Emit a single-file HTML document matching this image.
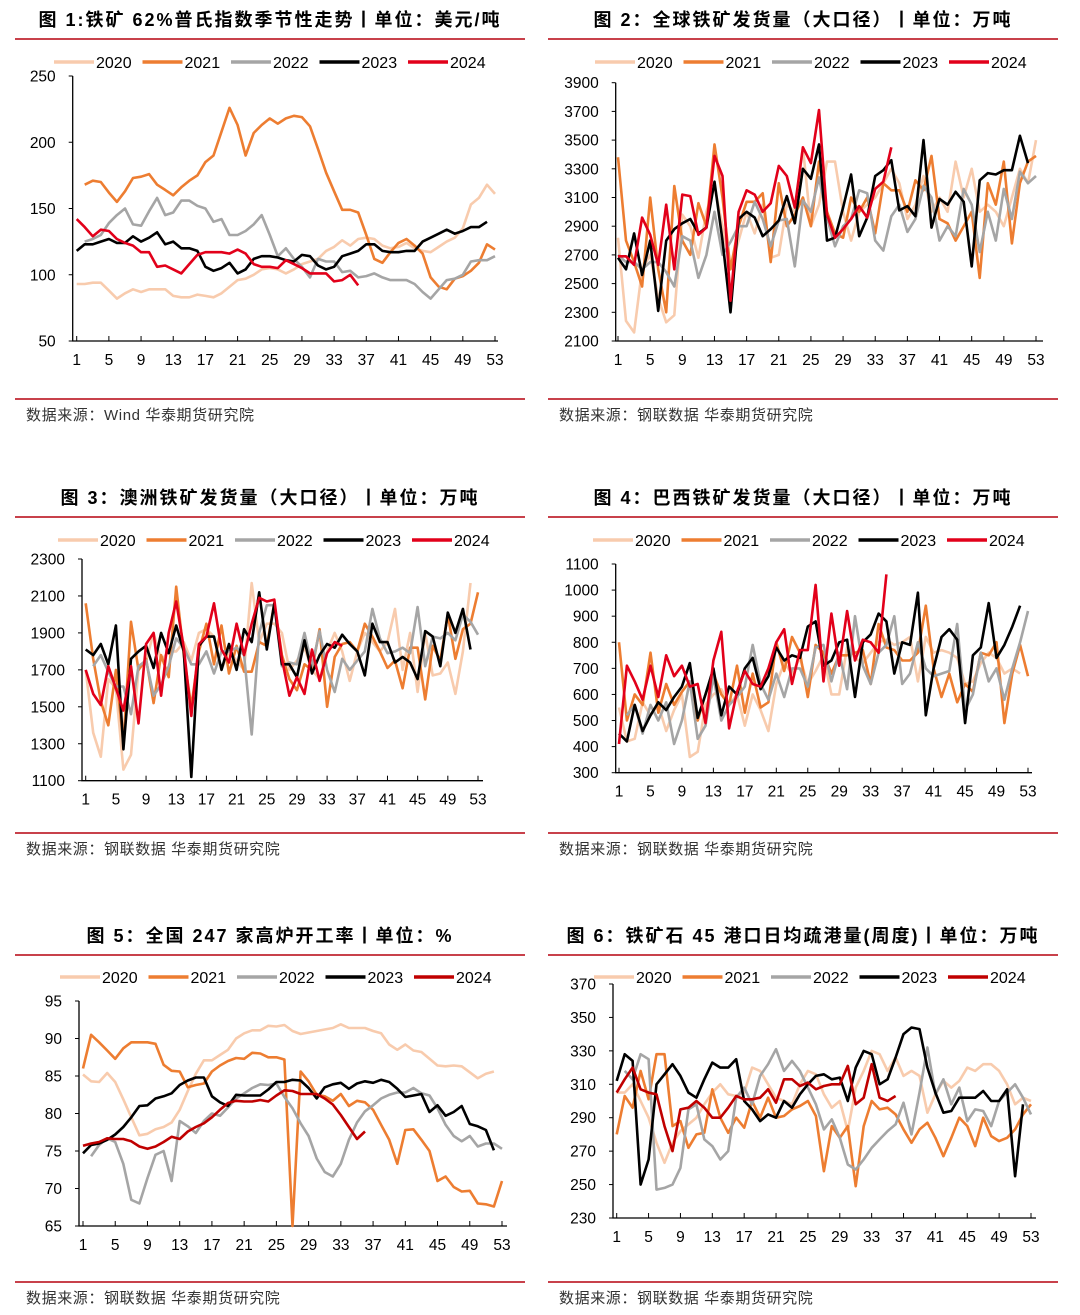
<!DOCTYPE html>
<html><head><meta charset="utf-8">
<style>
html,body{margin:0;padding:0;background:#fff;}
svg{display:block;font-family:"Liberation Sans","Noto Sans CJK SC",sans-serif;}
.tt{font-weight:bold;font-size:18px;fill:#000;letter-spacing:2px;}
.src{font-size:15px;fill:#333;letter-spacing:0.6px;}
.tk{font-size:15.5px;fill:#000;}
.lg{font-size:16px;fill:#000;}
</style></head>
<body>
<svg id="page" width="1080" height="1315" viewBox="0 0 1080 1315" xmlns="http://www.w3.org/2000/svg"></svg>
<script>
const years = ['2020','2021','2022','2023','2024'];
const weekTicks = [1,5,9,13,17,21,25,29,33,37,41,45,49,53];
const N = null;

// Chart 1: Platts 62% price
const c1y2020 = [93,93,94,94,88,82,86,89,87,89,89,89,84,83,83,85,84,83,86,91,96,97,100,104,105,104,101,104,108,110,112,118,121,126,122,127,128,127,122,120,121,124,120,118,117,121,125,128,135,153,158,168,161];
const c1y2021 = [N,168,171,170,162,155,163,173,174,176,168,164,160,166,171,175,185,190,208,226,213,190,207,213,218,214,218,220,219,212,195,177,163,149,149,147,130,112,109,117,124,127,122,116,98,91,89,97,99,103,109,123,119];
const c1y2022 = [N,125,127,130,139,145,150,138,137,148,158,145,147,156,156,152,150,140,142,130,130,133,138,145,130,114,120,112,106,98,112,110,110,102,103,98,99,101,98,96,96,96,93,87,82,89,96,97,100,110,111,111,114];
const c1y2023 = [118,123,123,125,127,124,124,129,125,128,132,123,125,120,120,118,106,103,105,109,101,104,112,114,114,113,111,110,115,114,107,104,106,114,116,118,123,123,118,117,117,118,118,125,128,131,134,131,133,136,136,140,N];
const c1y2024 = [142,136,129,134,133,127,124,122,117,117,106,107,104,101,108,115,117,117,117,116,119,116,108,106,106,105,111,108,105,101,101,101,95,96,100,92];
const c1ticks = [50,100,150,200,250];

// Chart 2: global shipments
const c2y2020 = [2820,2240,2160,2600,2700,2400,2230,2280,2980,2900,2680,3000,3180,2900,2600,2800,3000,2850,3050,2680,2700,3050,3000,3450,2900,3050,3350,3350,3000,2800,3000,3050,3100,3200,3300,3200,2950,3050,3250,3000,3100,3000,3350,3100,3300,3000,3050,3000,2900,3100,3300,3200,3500];
const c2y2021 = [3380,2800,2650,2480,3100,2600,2300,3180,2800,2700,3060,2900,3470,3100,2600,2900,3070,3070,3130,2650,3200,2900,2980,3100,2900,3350,3000,2850,2820,3100,3000,3100,2850,3200,3150,3150,3000,3220,3150,3390,2950,2920,2800,2900,3000,2540,3200,3050,3350,2780,3200,3350,3390];
const c2y2022 = [2700,2650,2650,2600,2650,2650,2580,2480,2830,2800,2540,2700,3000,2700,2790,2900,2900,3070,2950,2760,2940,2950,2620,3080,3000,3240,2960,2760,2900,2950,3150,3130,2800,2730,2970,3050,2860,2950,3180,3100,2800,2900,2830,3160,3050,2720,3000,2800,3160,2950,3280,3200,3250];
const c2y2023 = [2680,2600,2850,2560,2800,2310,2800,2880,2920,2950,2850,2890,3210,2800,2300,2950,3000,2960,2830,2880,2940,3110,2920,3300,3230,3470,2800,2820,3030,3260,2830,2960,3250,3290,3360,3010,3040,2970,3500,2890,3090,3050,3140,3070,2620,3220,3270,3260,3290,3290,3530,3340,N];
const c2y2024 = [2690,2690,2630,2960,2840,2630,3050,2600,3120,3110,2840,2890,3390,3250,2380,3000,3150,3120,3000,3060,3320,3250,3030,3450,3340,3710,2980,2820,2880,2950,3040,2960,3160,3210,3450];
const c2ticks = [2100,2300,2500,2700,2900,3100,3300,3500,3700,3900];

// Chart 3: Australia shipments
const c3y2020 = [1700,1360,1230,1650,1600,1160,1240,1700,1750,1900,1750,1800,1800,1850,1750,1900,1920,1880,1700,1800,1750,1700,2170,1850,1950,1950,1900,1700,1750,1820,1700,1650,1800,1900,1800,1640,1800,1900,1850,1800,1850,2030,1700,1900,1580,1900,1670,1680,1740,1570,1800,2170];
const c3y2021 = [2060,1760,1530,1400,1700,1300,1960,1700,1760,1520,1780,1660,2150,1780,1500,1800,1950,1730,1940,1680,1830,1690,1690,1850,1830,2060,1780,1650,1590,1730,1700,1920,1500,1770,1840,1850,1800,1950,1880,1800,1710,1750,1600,1820,1820,1540,1830,1750,2000,1760,1920,1950,2120];
const c3y2022 = [N,1720,1780,1690,1610,1610,1460,1720,1750,1560,1620,1720,1870,1820,1730,1730,1800,1680,1800,1800,1820,1780,1350,1900,2050,2050,1720,1740,1730,1900,1720,1910,1700,1580,1760,1700,1750,1800,2030,1870,1790,1800,1820,1790,2040,1720,1880,1870,1900,1860,2000,1960,1890];
const c3y2023 = [1810,1780,1840,1730,1940,1270,1760,1800,1830,1710,1900,1790,1940,1800,1120,1830,1880,1880,1700,1840,1700,1920,1850,2120,1810,2060,1730,1730,1660,1860,1680,1780,1840,1820,1890,1840,1800,1670,1950,1850,1850,1740,1770,1740,1650,1910,1880,1720,2010,1900,2030,1810,N];
const c3y2024 = [1700,1570,1510,1720,1600,1480,1720,1410,1840,1900,1560,1900,2070,1820,1450,1840,1880,2060,1810,1740,1950,1780,1950,2090,2070,2080,1760,1560,1660,1570,1810,1640,1790,1850,1830];
const c3ticks = [1100,1300,1500,1700,1900,2100,2300];

// Chart 4: Brazil shipments
const c4y2020 = [550,420,430,570,520,560,460,540,600,360,380,560,600,620,560,600,480,600,540,460,640,720,680,740,640,690,750,600,600,780,740,720,760,800,810,790,800,820,650,820,760,770,760,740,640,650,720,760,740,680,700,680];
const c4y2021 = [800,500,600,560,760,530,640,560,610,650,500,600,680,600,560,710,530,680,550,570,800,690,820,760,590,790,760,680,750,750,760,770,640,870,780,770,730,730,760,940,700,590,680,570,640,610,760,750,800,490,680,790,670];
const c4y2022 = [N,520,560,450,560,500,570,410,500,650,430,480,670,500,560,590,630,790,640,580,680,590,700,700,630,780,790,650,760,620,900,710,640,760,790,900,640,680,800,700,670,680,690,870,540,600,760,650,700,580,700,800,920];
const c4y2023 = [450,420,560,460,520,570,540,590,630,720,510,600,700,520,630,600,700,740,620,670,780,730,750,740,860,880,710,730,800,810,590,800,830,910,880,680,800,790,990,520,700,820,850,810,490,750,780,950,740,790,860,940,N];
const c4y2024 = [410,710,650,580,710,590,750,670,710,630,640,490,730,840,470,610,690,640,630,700,800,850,640,770,770,1020,650,910,710,920,730,810,800,760,1060];
const c4ticks = [300,400,500,600,700,800,900,1000,1100];

// Chart 5: blast furnace utilisation
const c5y2020 = [85.2,84.3,84.2,85.4,84.2,81.9,79.5,77.1,77.3,77.9,78.2,78.8,80.5,83,85.3,87.1,87.1,87.8,88.5,90,90.7,91.1,91.1,91.7,91.6,91.8,91,90.6,90.8,91,91.2,91.4,91.9,91.4,91.4,91.4,91,90.7,89.2,88.5,89.2,88.4,88.2,87.3,86.4,86.3,86.4,86.3,85.5,84.7,85.3,85.6,N];
const c5y2021 = [86,90.5,89.5,88.4,87.3,88.7,89.5,89.5,89.5,89.3,86.5,85.7,85.6,83.5,83.8,84,85.6,86.4,87,87.4,87.3,88.1,88,87.5,87.5,87.2,65,85.6,84.3,82.5,82.3,81.7,82.6,81,81.7,81.5,80.5,78.5,76.5,73.3,77.8,77.9,76.5,75,71,71.6,70.2,69.6,69.7,68,67.9,67.6,71];
const c5y2022 = [N,74.3,75.8,76.7,76.2,73.3,68.5,68,71.4,74.5,75,71,79,78.3,77.4,79,80,79.7,80.8,82,82.7,83.4,83.9,83.8,84,82.2,80.7,78.7,77,74,72.2,71.6,73.3,76.5,78.8,80.3,81.1,82,82.5,82.8,82.8,83.4,82.7,82.4,80.7,78.5,77,76.3,77,75.6,76,76,75.3];
const c5y2023 = [74.7,75.8,76,76.5,77.2,78.2,79.5,81,81.1,82,82.3,82.7,83.8,84.4,84.8,84.8,82.3,81.5,81,82.5,82.4,82.4,82.4,83.2,84.2,84.2,84.5,84.4,83.4,82,83.5,83.9,84.1,83.3,84,84.3,84.1,84.5,84.2,83.3,82.2,82.4,82.6,80.2,81.1,79.7,80.2,81,78.6,78.3,77.8,75.1,N];
const c5y2024 = [75.7,76,76.2,76.7,76.6,76.6,76.3,75.6,75.3,75.6,76.2,76.9,76.6,77.6,78.2,78.7,79.5,80.5,81.4,81.7,81.6,81.6,81.8,81.6,82.4,83.1,83,82.6,82.6,82.6,82,81.2,79.8,78.2,76.6,77.6];
const c5ticks = [65,70,75,80,85,90,95];

// Chart 6: 45-port clearance
const c6y2020 = [305,305,310,300,290,275,263,275,282,286,290,298,305,310,304,303,305,320,318,310,302,300,298,310,318,316,304,296,300,282,308,318,330,328,318,326,315,318,315,293,304,312,308,312,320,318,322,322,318,310,298,302,300];
const c6y2021 = [280,303,296,318,301,328,328,285,288,272,280,281,307,290,281,290,284,300,290,302,290,291,295,297,300,291,258,285,278,285,249,285,300,295,296,292,283,275,283,287,278,267,278,290,285,273,290,279,276,278,283,292,298];
const c6y2022 = [N,318,313,328,325,247,248,250,260,295,298,277,273,265,270,302,308,298,315,322,331,318,324,318,308,298,283,289,278,262,259,265,272,277,282,286,299,280,305,332,304,313,298,308,288,295,294,285,300,305,310,302,292];
const c6y2023 = [312,328,324,250,265,310,316,322,315,305,302,313,323,320,320,325,300,295,288,292,290,300,296,304,310,315,316,313,314,300,320,330,328,310,313,326,340,344,343,320,305,293,294,302,302,302,306,300,300,307,255,298,N];
const c6y2024 = [305,313,320,307,305,304,285,270,295,296,300,296,290,290,296,303,301,301,302,307,299,313,313,309,311,307,309,310,310,321,298,302,322,302,300,303];
const c6ticks = [230,250,270,290,310,330,350,370];

const NS = 'http://www.w3.org/2000/svg';
const svg = document.getElementById('page');
function mk(tag, attrs, parent){const e=document.createElementNS(NS,tag);for(const k in attrs)e.setAttribute(k,attrs[k]);(parent||svg).appendChild(e);return e;}

const colorsA = ['#f8cbad','#ed7d31','#a5a5a5','#000000','#e2001a'];
const colorsB = ['#f8cbad','#ed7d31','#a5a5a5','#000000','#c00000'];

function chart(cfg){
  const g = mk('g',{});
  
  
  const t = mk('text',{x:cfg.px+255,y:cfg.ty,'text-anchor':'middle',class:'tt'},g);
  t.textContent = cfg.title;
  
  
  const r1 = mk('rect',{x:cfg.px,y:cfg.ty+12,width:510,height:2,fill:'#c8414b'},g);
  
  
  const r2 = mk('rect',{x:cfg.px,y:cfg.sy,width:510,height:2,fill:'#c8414b'},g);
  
  
  const s = mk('text',{x:cfg.px+11,y:cfg.sy+22,class:'src'},g);
  s.textContent = cfg.source;
  
  
  const xOf = w => cfg.x1 + (w-1)*(cfg.x53-cfg.x1)/52;
  const yOf = v => cfg.yb + (v-cfg.vmin)*(cfg.yt-cfg.yb)/(cfg.vmax-cfg.vmin);
  const ax = mk('path',{d:`M${cfg.ax} ${cfg.yt} V${cfg.yb} H${cfg.axEnd}`,stroke:'#000','stroke-width':1.3,fill:'none'},g);
  
  
  cfg.ticks.forEach(v=>{
    const y=yOf(v);
    mk('line',{x1:cfg.ax-4,x2:cfg.ax,y1:y,y2:y,stroke:'#000','stroke-width':1},g);
    const tl = mk('text',{x:cfg.ax-17,y:y+5.5,'text-anchor':'end',class:'tk'},g);
    tl.textContent = v;
    
    
  });
  weekTicks.forEach(w=>{
    const x=xOf(w);
    mk('line',{x1:x,x2:x,y1:cfg.yb-5,y2:cfg.yb,stroke:'#000','stroke-width':1},g);
    const tl = mk('text',{x:x,y:cfg.yb+24,'text-anchor':'middle',class:'tk'},g);
    tl.textContent = w;
    
    
  });
  cfg.series.forEach((arr,i)=>{
    let d='';let pen=false;
    arr.slice(0,53).forEach((v,k)=>{
      if(v===null){pen=false;return;}
      d += (pen?'L':'M') + xOf(k+1).toFixed(1)+' '+yOf(v).toFixed(1)+' ';
      pen=true;
    });
    const p = mk('path',{d:d,stroke:cfg.colors[i],'stroke-width':2.6,fill:'none','stroke-linejoin':'round'},g);
    
    
  });
  years.forEach((yr,i)=>{
    const lx = cfg.lx + i*88.5;
    const lg = mk('g',{},g);
    
    
    mk('line',{x1:lx,x2:lx+40,y1:cfg.ly,y2:cfg.ly,stroke:cfg.colors[i],'stroke-width':3.5},lg);
    const lt = mk('text',{x:lx+42,y:cfg.ly+6,class:'lg'},lg);
    lt.textContent = yr;
  });
}

chart({name:'chart-platts-price',px:15,ty:26,sy:398,title:'图 1:铁矿 62%普氏指数季节性走势丨单位：美元/吨',source:'数据来源：Wind  华泰期货研究院',
  ax:72.7,axEnd:498,x1:76.7,x53:495,yt:76,yb:341,vmin:50,vmax:250,ticks:c1ticks,lx:54,ly:62,colors:colorsA,
  series:[c1y2020,c1y2021,c1y2022,c1y2023,c1y2024]});
chart({name:'chart-global-shipments',px:548,ty:26,sy:398,title:'图 2：全球铁矿发货量（大口径）丨单位：万吨',source:'数据来源：钢联数据  华泰期货研究院',
  ax:615.7,axEnd:1043,x1:618,x53:1036,yt:82.7,yb:341,vmin:2100,vmax:3900,ticks:c2ticks,lx:595,ly:62,colors:colorsA,
  series:[c2y2020,c2y2021,c2y2022,c2y2023,c2y2024]});
chart({name:'chart-australia-shipments',px:15,ty:504,sy:832,title:'图 3：澳洲铁矿发货量（大口径）丨单位：万吨',source:'数据来源：钢联数据  华泰期货研究院',
  ax:82,axEnd:483,x1:85.7,x53:478,yt:559,yb:780.7,vmin:1100,vmax:2300,ticks:c3ticks,lx:58,ly:540,colors:colorsA,
  series:[c3y2020,c3y2021,c3y2022,c3y2023,c3y2024]});
chart({name:'chart-brazil-shipments',px:548,ty:504,sy:832,title:'图 4：巴西铁矿发货量（大口径）丨单位：万吨',source:'数据来源：钢联数据  华泰期货研究院',
  ax:615.7,axEnd:1032,x1:619,x53:1028,yt:564,yb:772.7,vmin:300,vmax:1100,ticks:c4ticks,lx:593,ly:540,colors:colorsA,
  series:[c4y2020,c4y2021,c4y2022,c4y2023,c4y2024]});
chart({name:'chart-blast-furnace-rate',px:15,ty:942,sy:1281,title:'图 5：全国 247 家高炉开工率丨单位：%',source:'数据来源：钢联数据  华泰期货研究院',
  ax:79,axEnd:507,x1:83,x53:502,yt:1001,yb:1226,vmin:65,vmax:95,ticks:c5ticks,lx:60,ly:977,colors:colorsB,
  series:[c5y2020,c5y2021,c5y2022,c5y2023,c5y2024]});
chart({name:'chart-port-clearance',px:548,ty:942,sy:1281,title:'图 6：铁矿石 45 港口日均疏港量(周度)丨单位：万吨',source:'数据来源：钢联数据  华泰期货研究院',
  ax:613,axEnd:1036,x1:616.7,x53:1031,yt:984,yb:1218,vmin:230,vmax:370,ticks:c6ticks,lx:594,ly:977,colors:colorsB,
  series:[c6y2020,c6y2021,c6y2022,c6y2023,c6y2024]});
</script>
</body></html>
